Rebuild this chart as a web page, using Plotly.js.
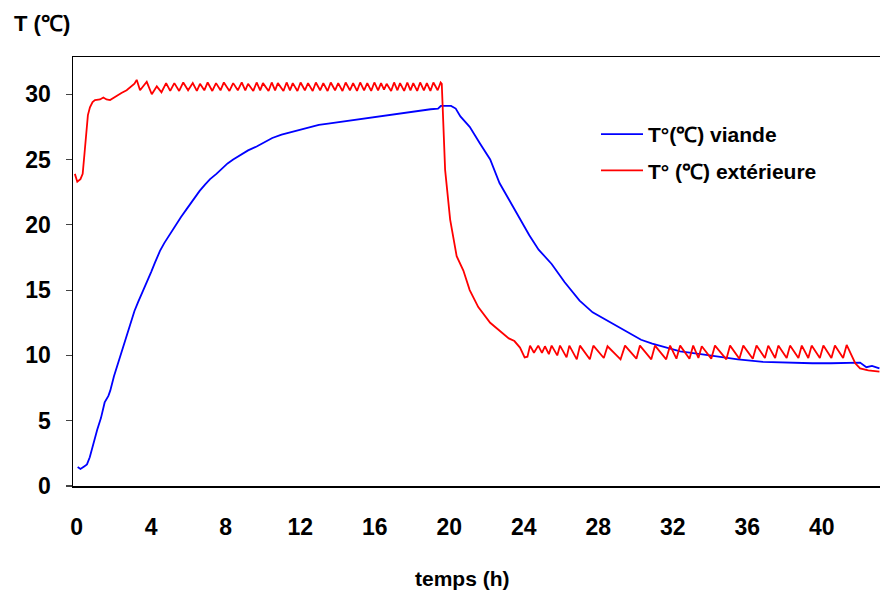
<!DOCTYPE html>
<html>
<head>
<meta charset="utf-8">
<script src="https://cdn.plot.ly/plotly-3.0.1.min.js"></script>
<style>html,body{margin:0;padding:0;background:#fff;}#chart{width:880px;height:593px;}</style>
</head>
<body>
<div id="chart"></div>
<script>
// Temperature of the meat (blue)
const viandeTime = [0.05,0.2,0.4,0.55,0.7,0.9,1.1,1.3,1.5,1.7,1.8,2.0,2.2,2.4,2.6,2.7,2.9,3.1,3.3,3.5,3.76,4.0,4.2,4.47,4.7,5.0,5.3,5.6,5.9,6.24,6.6,6.9,7.16,7.5,7.8,8.1,8.4,8.8,9.2,9.66,10.1,10.5,11.0,11.5,12.0,12.5,13.0,13.5,14.0,14.5,15.0,15.5,16.0,16.5,17.0,17.5,18.0,18.5,19.0,19.4,19.55,20.1,20.35,20.6,21.1,21.66,22.2,22.7,23.4,23.8,24.3,24.8,25.5,26.2,27.0,27.7,28.45,29.1,29.7,30.3,30.9,31.6,32.4,33.5,34.5,35.5,36.85,38.0,39.5,40.5,41.0,41.7,42.06,42.4,42.7,43.1];
const viandeTemp = [1.45,1.3,1.5,1.65,2.2,3.3,4.3,5.2,6.4,6.9,7.3,8.4,9.3,10.3,11.2,11.7,12.6,13.4,14.1,14.8,15.6,16.4,17.1,18.0,18.6,19.3,20.0,20.6,21.2,21.9,22.6,23.1,23.5,23.9,24.3,24.7,25.0,25.35,25.7,26.0,26.35,26.65,26.9,27.1,27.3,27.5,27.65,27.75,27.85,27.95,28.1,28.2,28.3,28.4,28.5,28.6,28.7,28.8,28.85,28.9,29.1,29.1,28.9,28.3,27.5,26.2,25.0,23.2,21.4,20.4,19.2,18.1,17.0,15.6,14.2,13.3,12.7,12.2,11.7,11.2,10.9,10.6,10.3,10.1,9.9,9.7,9.5,9.45,9.4,9.4,9.4,9.4,9.45,9.1,9.2,9.0];

// Outside temperature (red)
const extTime = [-0.1,0.03,0.2,0.32,0.42,0.5,0.6,0.71,0.85,0.98,1.25,1.43,1.6,1.79,2.06,2.4,2.68,2.95,3.1,3.22,3.4,3.76,4.03,4.3,4.55,4.8,5.02,5.24,5.5,5.72,5.98,6.23,6.45,6.62,6.85,7.03,7.28,7.48,7.72,7.9,8.2,8.4,8.65,8.86,9.05,9.2,9.48,9.66,9.85,10.0,10.3,10.47,10.65,10.8,11.1,11.27,11.45,11.6,11.85,12.02,12.25,12.42,12.67,12.84,13.07,13.24,13.47,13.64,13.87,14.04,14.27,14.44,14.67,14.84,15.05,15.22,15.43,15.6,15.81,15.98,16.18,16.34,16.5,16.64,16.88,17.04,17.22,17.36,17.58,17.75,17.92,18.07,18.28,18.44,18.64,18.8,18.99,19.15,19.38,19.54,19.6,19.78,20.05,20.4,20.76,21.1,21.56,22.2,22.7,23.2,23.5,23.8,24.05,24.2,24.34,24.55,24.78,24.98,25.14,25.35,25.5,25.8,25.95,26.3,26.45,26.85,27.02,27.55,27.74,28.3,28.5,29.2,29.44,30.05,30.24,30.85,31.05,31.65,31.86,32.2,32.4,32.9,33.1,33.38,33.56,34.07,34.27,34.88,35.08,35.58,35.79,36.3,36.5,36.95,37.13,37.5,37.67,38.12,38.3,38.75,38.93,39.28,39.46,39.9,40.09,40.52,40.71,41.15,41.34,41.8,42.06,42.5,43.1];
const extTemp = [23.9,23.3,23.5,23.9,25.5,27.0,28.4,29.0,29.4,29.55,29.6,29.75,29.6,29.55,29.8,30.1,30.3,30.6,30.8,31.1,30.3,30.95,30.0,30.6,30.15,30.85,30.25,30.85,30.25,30.9,30.3,30.85,30.25,30.8,30.3,30.9,30.25,30.85,30.3,30.9,30.25,30.85,30.3,30.9,30.3,30.8,30.25,30.9,30.3,30.85,30.25,30.9,30.3,30.85,30.25,30.9,30.3,30.85,30.25,30.9,30.3,30.85,30.25,30.9,30.3,30.85,30.25,30.9,30.3,30.85,30.25,30.9,30.3,30.85,30.25,30.9,30.3,30.85,30.25,30.9,30.3,30.85,30.35,30.8,30.25,30.9,30.3,30.85,30.25,30.9,30.3,30.85,30.25,30.9,30.3,30.85,30.25,30.9,30.3,30.9,30.8,24.2,20.4,17.6,16.5,15.0,13.7,12.5,11.9,11.3,11.1,10.6,9.85,9.9,10.75,10.2,10.75,10.2,10.7,10.1,10.75,10.0,10.75,9.85,10.75,9.7,10.75,9.7,10.75,9.8,10.7,9.7,10.75,9.75,10.75,9.7,10.75,9.7,10.75,9.75,10.75,9.75,10.75,9.8,10.7,9.75,10.75,9.7,10.75,9.75,10.75,9.75,10.75,9.8,10.75,9.8,10.75,9.8,10.75,9.8,10.75,9.8,10.75,9.8,10.75,9.8,10.75,9.8,10.8,9.4,9.0,8.85,8.75];

const xTicks = [0,4,8,12,16,20,24,28,32,36,40];
const yTicks = [0,5,10,15,20,25,30];
const seriesNames = ['T°(℃) viande', 'T° (℃) extérieure'];
const yTitle = 'T (℃)';
const xTitle = 'temps (h)';

const FONT = 'Liberation Sans, Arial, sans-serif';
const L = 73, R = 0, T = 57, B = 107, W = 880, H = 593;
const pw = W - L - R, ph = H - T - B;

const traces = [
  {x: viandeTime, y: viandeTemp, type: 'scatter', mode: 'lines', name: seriesNames[0],
   line: {color: '#0000FF', width: 1.8}, legendgroup: 'a'},
  {x: extTime, y: extTemp, type: 'scatter', mode: 'lines', name: seriesNames[1],
   line: {color: '#FF0000', width: 1.8}, legendgroup: 'b'}
];

const layout = {
  width: W, height: H,
  margin: {l: L, r: R, t: T, b: B, pad: 0},
  paper_bgcolor: '#fff', plot_bgcolor: '#fff',
  font: {family: FONT, size: 22, color: '#000', weight: 'bold'},
  showlegend: true,
  legend: {x: (596 - L) / pw, y: (H - B - 114) / ph, xanchor: 'left', yanchor: 'top',
           bgcolor: 'rgba(0,0,0,0)', font: {family: FONT, size: 21, color: '#000', weight: 'bold'},
           tracegroupgap: 6, traceorder: 'grouped', itemwidth: 42},
  xaxis: {range: [-0.2, 43.13], tickvals: xTicks, ticktext: xTicks.map(String),
          showline: true, linecolor: '#000', linewidth: 1.5, mirror: true,
          ticks: '', showgrid: false, zeroline: false, ticklabelstandoff: 20,
          tickfont: {family: FONT, size: 23, color: '#000', weight: 'bold'}},
  yaxis: {range: [0, 32.85], tickvals: yTicks, ticktext: yTicks.map(String),
          showline: true, linecolor: '#000', linewidth: 1.5,
          ticks: 'outside', ticklen: 6, tickwidth: 1.2, tickcolor: '#444',
          showgrid: false, zeroline: false, ticklabelstandoff: 10,
          tickfont: {family: FONT, size: 23, color: '#000', weight: 'bold'}},
  annotations: [
    {text: yTitle, xref: 'paper', yref: 'paper', x: (12 - L) / pw, y: (H - B - 23) / ph,
     xanchor: 'left', yanchor: 'middle', showarrow: false,
     font: {family: FONT, size: 22, color: '#000', weight: 'bold'}},
    {text: xTitle, xref: 'paper', yref: 'paper', x: (462 - L) / pw, y: (H - B - 578) / ph,
     xanchor: 'center', yanchor: 'middle', showarrow: false,
     font: {family: FONT, size: 21, color: '#000', weight: 'bold'}}
  ]
};

Plotly.newPlot('chart', traces, layout, {staticPlot: true, displayModeBar: false});
</script>
</body>
</html>
